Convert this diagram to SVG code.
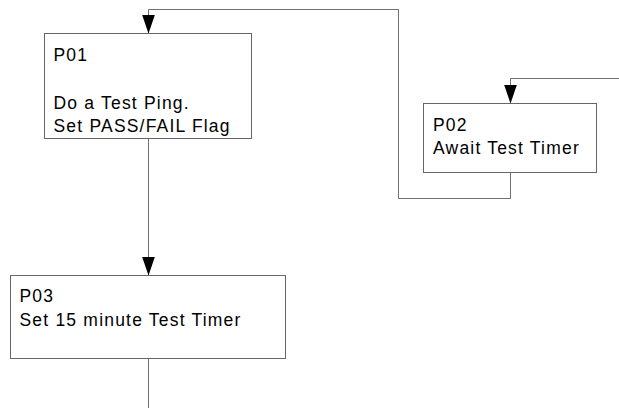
<svg xmlns="http://www.w3.org/2000/svg" width="619" height="408" viewBox="0 0 619 408">
  <style>
    .box { fill: #ffffff; stroke: #666666; stroke-width: 1; }
    .lbl { font-family: "Liberation Sans", Arial, sans-serif; font-size: 17.5px; letter-spacing: 1.2px; fill: #000000; }
    .wire { fill: none; stroke: #707070; stroke-width: 1; }
  </style>
  <defs>
    <marker id="arrow" markerUnits="userSpaceOnUse" markerWidth="19" markerHeight="13" refX="19" refY="6.5" orient="auto">
      <path d="M0,0 L19,6.5 L0,13 Z" fill="#000000"/>
    </marker>
  </defs>
  <rect width="619" height="408" fill="#ffffff"/>

  <!-- connectors -->
  <g id="connectors">
    <path class="wire" d="M148.5,138.5 V275.5" marker-end="url(#arrow)"/>
    <path class="wire" d="M148.5,358.5 V408"/>
    <path class="wire" d="M619,78.5 H510.5 V103.5" marker-end="url(#arrow)"/>
    <path class="wire" d="M510.5,172.5 V198.5 H398.5 V9.5 H148.5 V33.5" marker-end="url(#arrow)"/>
  </g>

  <!-- P01: ping test -->
  <g id="P01">
    <rect class="box" x="44.5" y="33.5" width="207" height="105"/>
    <text class="lbl">
      <tspan x="53.5" y="61">P01</tspan>
      <tspan x="53.5" y="108.5">Do a Test Ping.</tspan>
      <tspan x="53.5" y="132">Set PASS/FAIL Flag</tspan>
    </text>
  </g>

  <!-- P02: wait for timer -->
  <g id="P02">
    <rect class="box" x="423.5" y="103.5" width="173" height="69"/>
    <text class="lbl">
      <tspan x="433" y="131">P02</tspan>
      <tspan x="433" y="154">Await Test Timer</tspan>
    </text>
  </g>

  <!-- P03: arm timer -->
  <g id="P03">
    <rect class="box" x="10.5" y="275.5" width="275" height="83"/>
    <text class="lbl">
      <tspan x="19.5" y="302">P03</tspan>
      <tspan x="19.5" y="326">Set 15 minute Test Timer</tspan>
    </text>
  </g>
</svg>
